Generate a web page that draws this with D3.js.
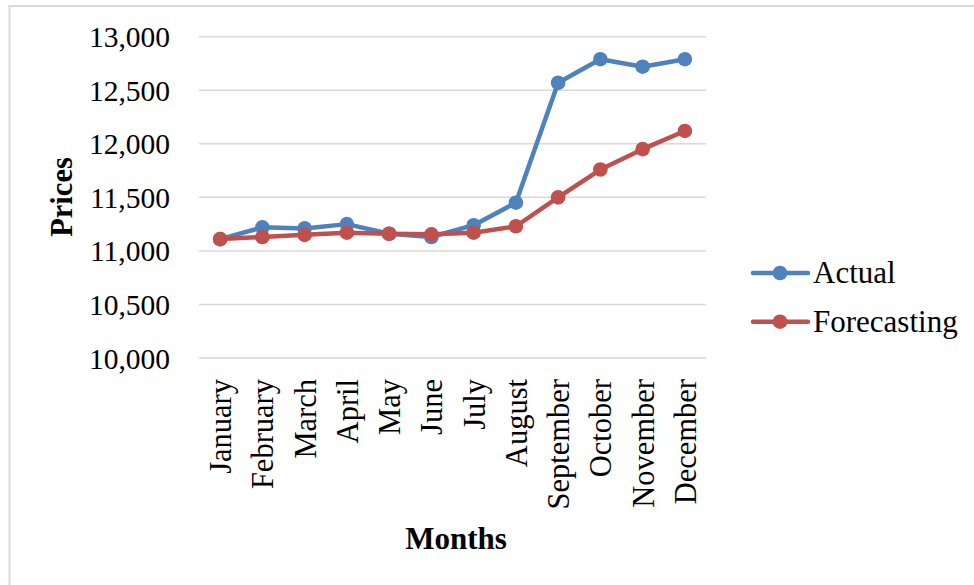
<!DOCTYPE html>
<html>
<head>
<meta charset="utf-8">
<script src="https://cdn.jsdelivr.net/npm/d3@7"></script>
<style>
  html, body { margin: 0; padding: 0; background: #fff; }
  svg { display: block; }
</style>
</head>
<body>
<script>
// Monthly prices: actual vs. forecast
const months = ["January", "February", "March", "April", "May", "June",
                "July", "August", "September", "October", "November", "December"];
const actual      = [11110, 11220, 11210, 11250, 11160, 11130, 11240, 11450, 12570, 12790, 12720, 12790];
const forecasting = [11110, 11130, 11150, 11170, 11160, 11155, 11170, 11230, 11500, 11760, 11950, 12120];
const yTicks = [10000, 10500, 11000, 11500, 12000, 12500, 13000];
const seriesNames = ["Actual", "Forecasting"];
const seriesColors = ["#4F81BD", "#C0504D"];

const W = 974, H = 585;
const FONT = "'Liberation Serif', 'Times New Roman', serif";

const svg = d3.select("body").append("svg")
  .attr("width", W).attr("height", H);

// chart-area frame (only top and left edges fall inside the view)
svg.append("rect")
  .attr("x", 9.5).attr("y", 6)
  .attr("width", 1000).attr("height", 600)
  .attr("fill", "#fff")
  .attr("stroke", "#D9D9D9").attr("stroke-width", 2);

const plot = { left: 199, right: 706, top: 36.7, bottom: 358 };

const x = d3.scaleBand()
  .domain(months)
  .range([plot.left, plot.right]);

const y = d3.scaleLinear()
  .domain([10000, 13000])
  .range([plot.bottom, plot.top]);

// horizontal gridlines
svg.append("g")
  .selectAll("line")
  .data(yTicks)
  .join("line")
  .attr("x1", plot.left).attr("x2", plot.right)
  .attr("y1", d => y(d)).attr("y2", d => y(d))
  .attr("stroke", "#D9D9D9").attr("stroke-width", 1.5);

// y axis labels
const yAxis = d3.axisLeft(y)
  .tickValues(yTicks)
  .tickFormat(d3.format(","))
  .tickSize(0)
  .tickPadding(0);
const yg = svg.append("g")
  .attr("transform", `translate(170,0)`)
  .call(yAxis);
yg.select(".domain").remove();
yg.selectAll("text")
  .attr("font-family", FONT)
  .attr("font-size", 29.5)
  .attr("fill", "#000")
  .attr("dy", "0.34em");

// x axis labels (rotated)
const xAxis = d3.axisBottom(x).tickSize(0).tickPadding(0);
const xg = svg.append("g")
  .attr("transform", `translate(0,${plot.bottom})`)
  .call(xAxis);
xg.select(".domain").remove();
xg.selectAll("text")
  .attr("font-family", FONT)
  .attr("font-size", 30.5)
  .attr("fill", "#000")
  .attr("text-anchor", "end")
  .attr("transform", "rotate(-90)")
  .attr("x", -21)
  .attr("y", 1)
  .attr("dy", "0.33em");

// axis titles
svg.append("text")
  .attr("transform", `translate(72,197) rotate(-90)`)
  .attr("text-anchor", "middle")
  .attr("font-family", FONT)
  .attr("font-weight", "bold")
  .attr("font-size", 30.5)
  .text("Prices");

svg.append("text")
  .attr("x", 456).attr("y", 549)
  .attr("text-anchor", "middle")
  .attr("font-family", FONT)
  .attr("font-weight", "bold")
  .attr("font-size", 31)
  .text("Months");

// series
const data = [actual, forecasting];
const cx = m => x(m) + x.bandwidth() / 2;
const line = d3.line()
  .x((d, i) => cx(months[i]))
  .y(d => y(d));

data.forEach((vals, s) => {
  const g = svg.append("g");
  g.append("path")
    .datum(vals)
    .attr("d", line)
    .attr("fill", "none")
    .attr("stroke", seriesColors[s])
    .attr("stroke-width", 4.5)
    .attr("stroke-linejoin", "round")
    .attr("stroke-linecap", "round");
  g.selectAll("circle")
    .data(vals)
    .join("circle")
    .attr("cx", (d, i) => cx(months[i]))
    .attr("cy", d => y(d))
    .attr("r", 7.3)
    .attr("fill", seriesColors[s]);
});

// legend
const legend = svg.append("g");
seriesNames.forEach((name, s) => {
  const ly = 273 + s * 48.7;
  legend.append("line")
    .attr("x1", 753).attr("x2", 808)
    .attr("y1", ly).attr("y2", ly)
    .attr("stroke", seriesColors[s])
    .attr("stroke-width", 4.5)
    .attr("stroke-linecap", "round");
  legend.append("circle")
    .attr("cx", 780).attr("cy", ly).attr("r", 7.3)
    .attr("fill", seriesColors[s]);
  legend.append("text")
    .attr("x", 813).attr("y", ly)
    .attr("dy", "0.33em")
    .attr("font-family", FONT)
    .attr("font-size", 31)
    .attr("fill", "#000")
    .text(name);
});
</script>
</body>
</html>
